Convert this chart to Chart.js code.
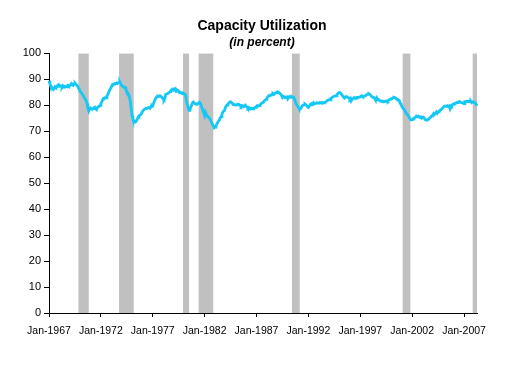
<!DOCTYPE html>
<html lang="en">
  <head>
    <meta charset="UTF-8" />
    <title>Capacity Utilization</title>
    <script src="https://cdn.jsdelivr.net/npm/chart.js"></script>
    <style>
      body {
        margin: 0;
        background: #fff;
      }
      .wrap {
        width: 524px;
        height: 371px;
      }
    </style>
  </head>
  <body>
    <div class="wrap"><canvas id="cuChart"></canvas></div>

    <script>
      // Monthly data, Jan-1967 .. Apr-2008
      const startYear = 1967;
      const monthNames = ["Jan", "Feb", "Mar", "Apr", "May", "Jun", "Jul", "Aug", "Sep", "Oct", "Nov", "Dec"];

      const utilization = [
        89.4, 88.3, 87.5, 87.0, 86.3, 86.0, 86.4, 87.1, 86.8, 87.0, 87.6, 87.9, // 1967
        87.3, 87.5, 87.2, 87.0, 87.6, 87.4, 86.9, 87.0, 87.3, 87.1, 87.6, 87.3, // 1968
        87.5, 87.9, 88.3, 87.8, 87.6, 88.2, 88.5, 88.1, 87.7, 87.4, 86.6, 86.2, // 1969
        85.3, 84.9, 84.5, 84.0, 83.4, 82.8, 82.3, 81.7, 80.6, 78.8, 77.7, 78.5, // 1970
        78.9, 78.6, 78.4, 78.7, 79.0, 79.2, 78.6, 78.3, 79.1, 79.4, 79.5, 79.9, // 1971
        80.6, 81.3, 82.0, 82.6, 82.5, 82.9, 82.8, 83.6, 84.1, 84.9, 85.6, 86.3, // 1972
        86.9, 87.7, 88.0, 88.1, 88.3, 88.2, 88.5, 88.3, 88.6, 88.8, 88.9, 88.2, // 1973
        87.6, 87.3, 87.0, 86.8, 86.9, 86.0, 85.3, 84.6, 84.2, 83.3, 81.5, 78.8, // 1974
        76.0, 74.8, 73.9, 73.6, 73.5, 73.9, 74.5, 75.3, 75.9, 76.1, 76.4, 76.8, // 1975
        77.5, 78.0, 78.3, 78.3, 78.8, 78.7, 78.9, 79.1, 79.0, 78.8, 79.5, 80.0, // 1976
        79.8, 80.7, 81.6, 82.3, 82.9, 83.3, 83.5, 83.4, 83.6, 83.5, 83.2, 82.9, // 1977
        82.3, 82.0, 82.6, 84.2, 84.3, 84.5, 84.6, 84.9, 85.2, 85.6, 86.0, 86.2, // 1978
        85.8, 86.2, 86.4, 85.3, 85.9, 85.7, 85.5, 84.8, 84.9, 84.8, 84.5, 84.4, // 1979
        84.5, 84.3, 83.9, 81.5, 80.2, 78.9, 78.0, 78.2, 79.2, 80.1, 80.9, 81.2, // 1980
        80.8, 80.5, 80.5, 80.3, 80.6, 80.7, 81.1, 80.8, 79.9, 78.9, 78.0, 77.1, // 1981
        76.0, 77.2, 76.5, 75.8, 75.5, 75.2, 74.8, 74.0, 73.4, 72.6, 72.0, 71.3, // 1982
        71.6, 72.0, 72.5, 73.3, 73.8, 74.3, 75.1, 75.6, 76.5, 77.3, 77.7, 78.0, // 1983
        79.1, 79.8, 80.0, 80.5, 80.8, 81.2, 81.3, 81.0, 80.7, 80.2, 80.3, 80.3, // 1984
        80.0, 80.2, 80.4, 80.1, 80.2, 79.9, 79.5, 79.9, 79.8, 79.4, 79.6, 80.0, // 1985
        79.6, 79.3, 78.8, 79.1, 78.9, 78.5, 78.8, 78.6, 78.6, 78.9, 79.0, 79.3, // 1986
        79.2, 79.8, 79.7, 79.8, 80.1, 80.4, 80.8, 81.0, 81.1, 81.7, 81.9, 82.2, // 1987
        82.7, 83.2, 83.6, 83.8, 83.7, 83.9, 84.1, 84.4, 84.1, 84.5, 84.7, 84.9, // 1988
        85.1, 84.7, 84.8, 84.6, 84.1, 83.7, 83.0, 83.4, 83.2, 82.9, 83.1, 83.2, // 1989
        82.5, 83.2, 83.3, 83.0, 83.1, 83.2, 83.0, 83.1, 82.3, 81.3, 80.5, 79.9, // 1990
        79.4, 78.8, 78.4, 78.6, 79.2, 79.8, 80.0, 80.1, 80.4, 80.1, 79.9, 79.4, // 1991
        79.1, 79.6, 80.1, 80.5, 80.6, 80.3, 80.9, 80.5, 80.6, 80.8, 80.9, 80.8, // 1992
        80.8, 81.0, 80.9, 81.0, 80.7, 80.9, 81.0, 80.9, 81.2, 81.5, 81.8, 82.0, // 1993
        82.1, 82.0, 82.6, 82.8, 83.1, 83.3, 83.5, 83.5, 83.6, 84.0, 84.4, 84.8, // 1994
        84.9, 84.6, 84.4, 83.8, 83.4, 83.2, 82.8, 83.2, 83.3, 83.0, 82.9, 82.8, // 1995
        82.2, 82.6, 81.9, 82.4, 82.6, 82.9, 82.6, 82.8, 83.0, 82.8, 83.0, 83.1, // 1996
        83.2, 83.5, 83.6, 83.3, 83.4, 83.5, 83.6, 84.0, 84.1, 84.3, 84.4, 84.2, // 1997
        83.8, 83.4, 83.2, 82.9, 82.9, 82.3, 81.8, 82.7, 82.1, 82.2, 81.8, 81.6, // 1998
        81.6, 81.5, 81.5, 81.3, 81.5, 81.4, 81.6, 81.7, 81.5, 81.9, 82.2, 82.4, // 1999
        82.3, 82.6, 82.8, 83.0, 82.9, 82.7, 82.4, 82.0, 82.1, 81.8, 80.9, 80.3, // 2000
        79.6, 79.0, 78.6, 78.2, 77.5, 76.9, 76.5, 76.2, 75.6, 75.0, 74.5, 74.3, // 2001
        74.4, 74.6, 75.0, 75.2, 75.4, 75.8, 75.6, 75.8, 75.6, 75.4, 75.5, 75.0, // 2002
        75.3, 75.4, 75.0, 74.5, 74.4, 74.2, 74.5, 74.5, 74.9, 75.2, 75.6, 75.9, // 2003
        76.3, 76.8, 76.5, 76.9, 77.4, 76.9, 77.4, 77.6, 77.8, 78.3, 78.4, 78.8, // 2004
        79.2, 79.5, 79.7, 79.6, 79.6, 79.8, 79.5, 79.7, 78.6, 79.3, 80.0, 80.3, // 2005
        80.5, 80.4, 80.7, 80.9, 81.0, 81.2, 81.3, 81.4, 81.1, 81.0, 80.9, 80.8, // 2006
        80.6, 81.3, 81.2, 81.5, 81.4, 81.4, 81.5, 81.3, 81.5, 81.0, 81.3, 81.2, // 2007
        81.0, 80.8, 80.3, 79.8, // 2008
      ];

      // Recession periods (first and last month), shaded grey
      const recessions = [
        ["Dec-1969", "Nov-1970"],
        ["Nov-1973", "Mar-1975"],
        ["Jan-1980", "Jul-1980"],
        ["Jul-1981", "Nov-1982"],
        ["Jul-1990", "Mar-1991"],
        ["Mar-2001", "Nov-2001"],
        ["Dec-2007", "Apr-2008"],
      ];

      const xTickLabels = [
        "Jan-1967", "Jan-1972", "Jan-1977", "Jan-1982", "Jan-1987",
        "Jan-1992", "Jan-1997", "Jan-2002", "Jan-2007",
      ];

      // month labels for the category axis
      const months = utilization.map(
        (v, i) => monthNames[i % 12] + "-" + (startYear + Math.floor(i / 12))
      );

      const shade = months.map(() => 0);
      recessions.forEach(([a, b]) => {
        const i0 = months.indexOf(a);
        const i1 = months.indexOf(b);
        for (let i = i0; i <= i1; i++) shade[i] = 100;
      });

      Chart.defaults.font.family = "'Liberation Sans', Arial, sans-serif";
      Chart.defaults.color = "#000";

      const ctx = document.getElementById("cuChart").getContext("2d");
      new Chart(ctx, {
        type: "line",
        data: {
          labels: months,
          datasets: [
            {
              label: "Capacity Utilization",
              data: utilization,
              borderColor: "#14c8f5",
              borderWidth: 2.8,
              pointRadius: 0,
              tension: 0,
              fill: false,
              order: 1,
            },
            {
              label: "Recession",
              data: shade,
              stepped: "after",
              borderColor: "rgba(0,0,0,0)",
              borderWidth: 0,
              backgroundColor: "#c0c0c0",
              pointRadius: 0,
              fill: "origin",
              order: 2,
            },
          ],
        },
        options: {
          responsive: true,
          maintainAspectRatio: false,
          animation: false,
          layout: { padding: 0 },
          plugins: {
            legend: { display: false },
            tooltip: { enabled: false },
            title: {
              display: true,
              text: "Capacity Utilization",
              font: { size: 14, weight: "bold" },
              padding: { top: 18, bottom: 0 },
            },
            subtitle: {
              display: true,
              text: "(in percent)",
              font: { size: 12, weight: "bold", style: "italic" },
              padding: { top: 1, bottom: 3 },
            },
          },
          scales: {
            x: {
              type: "category",
              offset: false,
              z: 1,
              afterBuildTicks: (scale) => {
                scale.ticks = scale.ticks.filter((t) =>
                  xTickLabels.includes(months[t.value])
                );
              },
              afterFit: (scale) => {
                scale.height = 58;
              },
              grid: {
                drawOnChartArea: false,
                drawTicks: true,
                tickLength: 4,
                color: "#000",
              },
              border: { display: true, color: "#000", width: 1 },
              ticks: {
                autoSkip: false,
                maxRotation: 0,
                font: { size: 10.5 },
                padding: 8,
              },
            },
            y: {
              min: 0,
              max: 100,
              z: 1,
              afterFit: (scale) => {
                scale.width = 49;
              },
              grid: {
                drawOnChartArea: false,
                drawTicks: true,
                tickLength: 5,
                color: "#000",
              },
              border: { display: true, color: "#000", width: 1 },
              ticks: {
                stepSize: 10,
                font: { size: 11 },
                padding: 3,
              },
            },
            // empty right-hand margin so the title stays centred on the page
            yRight: {
              position: "right",
              min: 0,
              max: 100,
              afterFit: (scale) => {
                scale.width = 47;
              },
              grid: { display: false },
              border: { display: false },
              ticks: { display: false },
            },
          },
        },
      });
    </script>
  </body>
</html>
